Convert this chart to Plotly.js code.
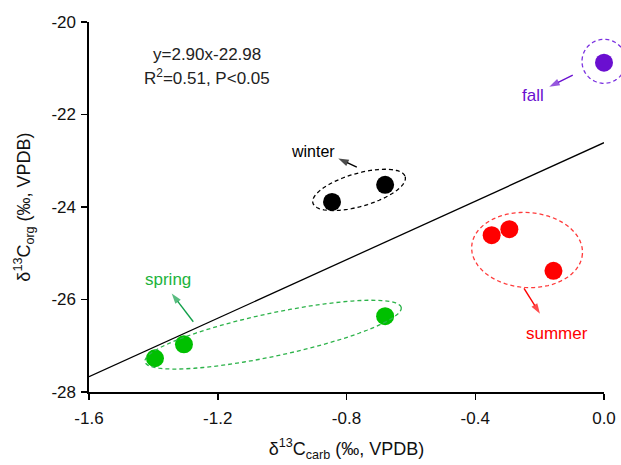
<!DOCTYPE html>
<html>
<head>
<meta charset="utf-8">
<script src="https://cdn.plot.ly/plotly-3.0.1.min.js"></script>
<style>html,body{margin:0;padding:0;background:#fff;}#chart{width:621px;height:465px;}</style>
</head>
<body>
<div id="chart"></div>
<script>
// ---- data ----
var seasons = ["fall", "winter", "summer", "spring"];
var fallX = [0.0];
var fallY = [-20.88];
var winterX = [-0.845, -0.680];
var winterY = [-23.89, -23.52];
var summerX = [-0.349, -0.294, -0.157];
var summerY = [-24.61, -24.48, -25.38];
var springX = [-1.395, -1.305, -0.680];
var springY = [-27.27, -26.97, -26.36];
var fitX = [-1.6, 0.0];
var fitY = [-27.67, -22.61];
var xTickVals = [-1.6, -1.2, -0.8, -0.4, 0.0];
var xTickText = ["-1.6", "-1.2", "-0.8", "-0.4", "0.0"];
var yTickVals = [-28, -26, -24, -22, -20];
var yTickText = ["-28", "-26", "-24", "-22", "-20"];
var equationText = ["y=2.90x-22.98", "R<sup>2</sup>=0.51, P&lt;0.05"];

// ---- layout constants ----
var W = 621, H = 465;
var M = {l: 89, r: 17, t: 22, b: 73};
var PW = W - M.l - M.r, PH = H - M.t - M.b;
var XR = [-1.6, 0.0], YR = [-28, -20];

var colors = {
  fall: "#6a0fd0", winter: "#000000", summer: "#ff0000", spring: "#00c000",
  springText: "#1db33c", springArrow: "#12a04a", springRing: "#2db34a",
  fallRing: "#7a30e0", summerRing: "#ff3b3b"
};

function toPaperX(x) { return (x - XR[0]) / (XR[1] - XR[0]); }
function toPaperY(y) { return (y - YR[0]) / (YR[1] - YR[0]); }

// dashed ellipse around a group: centre in data units, radii in px, angle in degrees (screen)
function ellipsePath(cx, cy, a, b, angDeg) {
  var cxp = toPaperX(cx), cyp = toPaperY(cy);
  var t = angDeg * Math.PI / 180, n = 72, d = "";
  for (var i = 0; i <= n; i++) {
    var s = 2 * Math.PI * i / n;
    var ex = a * Math.cos(s), ey = b * Math.sin(s);
    var dx = ex * Math.cos(t) - ey * Math.sin(t);
    var dy = ex * Math.sin(t) + ey * Math.cos(t);
    var X = cxp + dx / PW, Y = cyp - dy / PH;
    d += (i === 0 ? "M" : "L") + X.toFixed(5) + "," + Y.toFixed(5);
  }
  return d + "Z";
}
function ring(path, color) {
  return {type: "path", xref: "paper", yref: "paper", path: path,
          line: {color: color, width: 1.3, dash: "4px,3px"}, layer: "above"};
}
// pointer arrow (tail -> head) as a line with an arrow marker at the head
function arrowTrace(tx, ty, hx, hy, color) {
  return {x: [tx, hx], y: [ty, hy], mode: "lines+markers", hoverinfo: "skip", cliponaxis: false,
          line: {color: color, width: 1.4},
          marker: {symbol: "arrow", size: [0, 11], angleref: "previous", color: color, line: {width: 0}}};
}

var traces = [
  {x: fitX, y: fitY, mode: "lines", line: {color: "#000", width: 1.3}, hoverinfo: "skip", cliponaxis: false},
  {x: springX, y: springY, mode: "markers", name: "spring", marker: {size: 18, color: colors.spring}, cliponaxis: false},
  {x: winterX, y: winterY, mode: "markers", name: "winter", marker: {size: 18, color: colors.winter}, cliponaxis: false},
  {x: summerX, y: summerY, mode: "markers", name: "summer", marker: {size: 18, color: colors.summer}, cliponaxis: false},
  {x: fallX, y: fallY, mode: "markers", name: "fall", marker: {size: 18, color: colors.fall}, cliponaxis: false},
  arrowTrace(-0.097, -21.15, -0.170, -21.40, colors.fall),
  arrowTrace(-0.768, -23.14, -0.8255, -22.95, "#000"),
  arrowTrace(-0.2485, -25.76, -0.199, -26.31, colors.summer),
  arrowTrace(-1.276, -26.48, -1.343, -25.87, colors.springArrow)
];

var shapes = [
  ring(ellipsePath(-0.761, -23.63, 48, 16.5, -16), "#000"),
  ring(ellipsePath(-1.028, -26.76, 131, 21.5, -12), colors.springRing),
  ring(ellipsePath(-0.239, -24.93, 55.5, 37.5, 4), colors.summerRing),
  ring(ellipsePath(0.0, -20.85, 22, 22, 0), colors.fallRing)
];

var F = "Liberation Sans, Arial, sans-serif";
function label(x, y, text, color, size) {
  return {x: x, y: y, xref: "x", yref: "y", text: text, showarrow: false,
          font: {family: F, size: size || 17, color: color}, xanchor: "center", yanchor: "middle"};
}

var annotations = [
  label(-1.233, -20.71, equationText[0], "#222", 17),
  label(-1.233, -21.19, equationText[1], "#222", 17),
  label(-0.2215, -21.58, seasons[0], colors.fall, 17),
  label(-0.904, -22.80, seasons[1], "#000", 16),
  label(-0.147, -26.73, seasons[2], colors.summer, 17),
  label(-1.355, -25.56, seasons[3], colors.springText, 17)
];

var axisCommon = {
  showgrid: false, zeroline: false, showline: true, linecolor: "#000", linewidth: 1.6,
  ticks: "outside", ticklen: 6, tickwidth: 1.5, tickcolor: "#000",
  tickfont: {family: F, size: 17, color: "#111"}, tickmode: "array", mirror: false
};

var layout = {
  width: W, height: H, margin: M, showlegend: false,
  paper_bgcolor: "#fff", plot_bgcolor: "#fff",
  xaxis: Object.assign({}, axisCommon, {
    range: XR, tickvals: xTickVals, ticktext: xTickText, ticklabelstandoff: 4,
    title: {text: "δ<sup>13</sup>C<sub>carb</sub> (‰, VPDB)", font: {family: F, size: 18, color: "#111"}, standoff: 15}
  }),
  yaxis: Object.assign({}, axisCommon, {
    range: YR, tickvals: yTickVals, ticktext: yTickText, ticklabelstandoff: 2,
    title: {text: "δ<sup>13</sup>C<sub>org</sub> (‰, VPDB)", font: {family: F, size: 18, color: "#111"}, standoff: 16}
  }),
  shapes: shapes, annotations: annotations
};

Plotly.newPlot("chart", traces, layout, {displayModeBar: false, staticPlot: true});
</script>
</body>
</html>
